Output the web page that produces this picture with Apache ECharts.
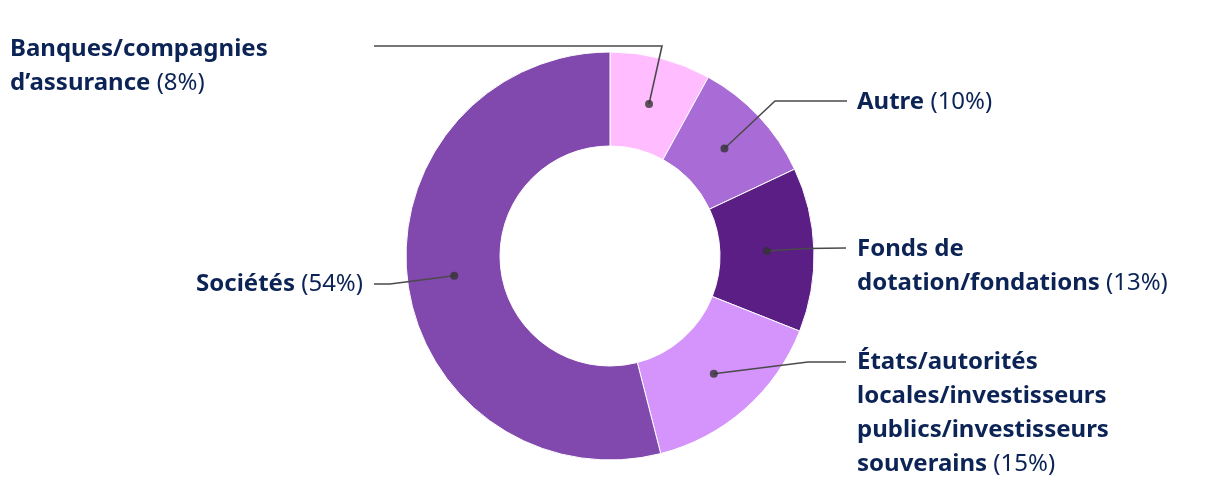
<!DOCTYPE html>
<html>
<head>
<meta charset="utf-8">
<script src="https://cdn.jsdelivr.net/npm/echarts@6/dist/echarts.min.js"></script>
<style>
html,body{margin:0;padding:0;background:#fff;}
#chart{width:1220px;height:492px;}
</style>
</head>
<body>
<div id="chart"></div>
<script>
// ---- data ----
const categories = ['Banques/compagnies d’assurance', 'Autre', 'Fonds de dotation/fondations', 'États/autorités locales/investisseurs publics/investisseurs souverains', 'Sociétés'];
const labelLines = [
  ['Banques/compagnies', 'd’assurance'],
  ['Autre'],
  ['Fonds de', 'dotation/fondations'],
  ['États/autorités', 'locales/investisseurs', 'publics/investisseurs', 'souverains'],
  ['Sociétés']
];
const values = [8, 10, 13, 15, 54];
const colors = ['#ffbdff', '#a96cd7', '#5a1e84', '#d494fb', '#8149ad'];

// ---- layout (pixels) ----
const CX = 610, CY = 256, R_IN = 110, R_OUT = 204, R_DOT = 157;
const labelPos = [
  {x: 10, y: 32, align: 'left', elbow: [662, 46], end: [374, 46]},
  {x: 857, y: 85, align: 'left', elbow: [775, 101], end: [847, 101]},
  {x: 857, y: 232, align: 'left', elbow: [806, 248.5], end: [846, 248]},
  {x: 857, y: 345, align: 'left', elbow: [808, 362], end: [846, 362]},
  {x: 363, y: 267, align: 'right', elbow: [390, 284], end: [374, 284]}
];

const total = values.reduce((a, b) => a + b, 0);
let cum = 0;
const dotData = values.map(v => { const mid = cum + v / 2; cum += v; return [R_DOT, mid / total * 100]; });

const pieData = categories.map((c, i) => ({name: c, value: values[i], itemStyle: {color: colors[i]}}));
const labelData = categories.map((c, i) => {
  const lines = labelLines[i];
  const pct = '{n|(' + values[i] + '%)}';
  const txt = lines.map((l, j) => '{b|' + l + '}' + (j === lines.length - 1 ? '{n| }' + pct : '')).join('\n');
  return {name: c, value: values[i], labelText: txt};
});

const chart = echarts.init(document.getElementById('chart'), null, {renderer: 'canvas'});
chart.setOption({
  animation: false,
  backgroundColor: '#ffffff',
  polar: {center: [CX, CY], radius: R_OUT},
  angleAxis: {type: 'value', min: 0, max: 100, startAngle: 90, clockwise: true, show: false},
  radiusAxis: {type: 'value', min: 0, max: R_OUT, show: false},
  series: [
    {
      type: 'pie',
      center: [CX, CY],
      radius: [R_IN, R_OUT],
      startAngle: 90,
      clockwise: true,
      silent: true,
      label: {show: false},
      labelLine: {show: false},
      itemStyle: {borderColor: '#ffffff', borderWidth: 1},
      data: pieData,
      z: 1
    },
    {
      type: 'pie',
      center: [CX, CY],
      radius: [0, R_DOT],
      startAngle: 90,
      clockwise: true,
      silent: true,
      avoidLabelOverlap: false,
      itemStyle: {color: 'rgba(0,0,0,0)'},
      emphasis: {disabled: true},
      data: labelData,
      z: 3,
      label: {
        show: true,
        position: 'outside',
        formatter: p => labelData[p.dataIndex].labelText,
        rich: {
          b: {fontFamily: 'Noto Sans', fontWeight: 'bold', fontSize: 24, color: '#0c2356', lineHeight: 34},
          n: {fontFamily: 'Noto Sans', fontWeight: 'normal', fontSize: 24, color: '#0c2356', lineHeight: 34}
        }
      },
      labelLine: {show: true, lineStyle: {color: '#4a4a4a', width: 1.6}},
      labelLayout: function (p) {
        const lp = labelPos[p.dataIndex];
        const start = p.labelLinePoints ? p.labelLinePoints[0] : [CX, CY];
        return {
          x: lp.x, y: lp.y, align: lp.align, verticalAlign: 'top',
          labelLinePoints: [start, lp.elbow, lp.end]
        };
      }
    },
    {
      type: 'scatter',
      coordinateSystem: 'polar',
      symbol: 'circle',
      symbolSize: 8,
      silent: true,
      itemStyle: {color: '#333333'},
      data: dotData,
      z: 4
    }
  ]
});
</script>
</body>
</html>
